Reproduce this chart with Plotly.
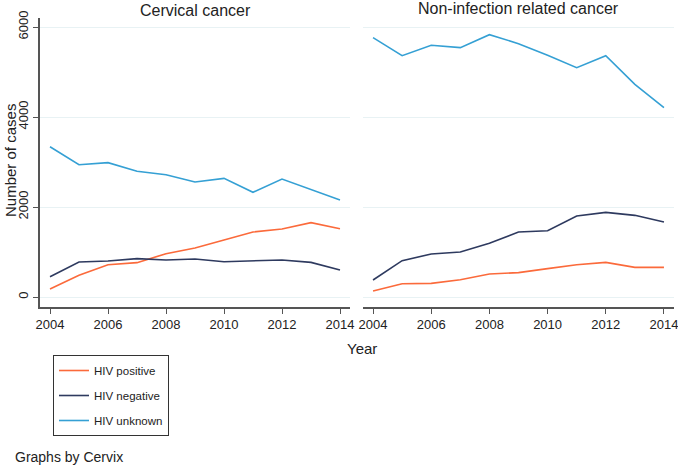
import plotly.graph_objects as go

years = list(range(2004, 2015))

# Cervical cancer panel
cervical_hiv_positive = [178, 482, 718, 763, 963, 1089, 1267, 1444, 1511, 1652, 1515]
cervical_hiv_negative = [452, 778, 800, 852, 822, 844, 785, 800, 822, 770, 600]
cervical_hiv_unknown = [3340, 2940, 2985, 2793, 2718, 2556, 2637, 2326, 2622, 2380, 2155]

# Non-infection related cancer panel
noninf_hiv_positive = [133, 296, 304, 385, 511, 541, 630, 718, 770, 659, 659]
noninf_hiv_negative = [378, 807, 956, 1000, 1193, 1444, 1474, 1800, 1881, 1815, 1667]
noninf_hiv_unknown = [5763, 5363, 5593, 5541, 5830, 5630, 5370, 5096, 5363, 4726, 4207]

series_names = ["HIV positive", "HIV negative", "HIV unknown"]
series_colors = ["#fb6a3b", "#2e3a5f", "#35a0d4"]
panel_titles = ["Cervical cancer", "Non-infection related cancer"]
y_ticks = [0, 2000, 4000, 6000]
x_ticks = [2004, 2006, 2008, 2010, 2012, 2014]

W, H = 678, 465
ML, MR, MT, MB = 40, 4, 18, 158
PW = W - ML - MR
PH = H - MT - MB


def px_x(p):
    return (p - ML) / PW


def px_y(p):
    return (H - MB - p) / PH


panels = [
    (cervical_hiv_positive, cervical_hiv_negative, cervical_hiv_unknown),
    (noninf_hiv_positive, noninf_hiv_negative, noninf_hiv_unknown),
]

fig = go.Figure()
for i, panel in enumerate(panels):
    suffix = "" if i == 0 else "2"
    for name, color, vals in zip(series_names, series_colors, panel):
        fig.add_trace(go.Scatter(
            x=years, y=vals, mode="lines", name=name,
            line=dict(color=color, width=1.6),
            xaxis="x" + suffix, yaxis="y" + suffix,
            legendgroup=name, showlegend=(i == 0),
        ))

font = "Liberation Sans, Arial, sans-serif"
axis_common = dict(
    range=[2003.655, 2014.345], tickvals=x_ticks, ticks="outside", ticklen=5,
    tickcolor="#555555", showline=True, linecolor="#555555", linewidth=1.5,
    showgrid=False, zeroline=False, tickfont=dict(size=13, color="#222222"),
    automargin=False, ticklabeloverflow="allow",
)
yaxis_common = dict(
    range=[-222, 6200], tickvals=y_ticks, showgrid=True, gridcolor="#e8f2f4",
    gridwidth=1, zeroline=False, automargin=False,
)

fig.update_layout(
    width=W, height=H,
    margin=dict(l=ML, r=MR, t=MT, b=MB, autoexpand=False),
    paper_bgcolor="white", plot_bgcolor="white",
    font=dict(family=font, color="#222222"),
    xaxis=dict(domain=[0, px_x(350)], anchor="y", **axis_common),
    xaxis2=dict(domain=[px_x(363), 1], anchor="y2", **axis_common),
    yaxis=dict(domain=[0, 1], anchor="x", showline=True, linecolor="#555555",
               linewidth=1.5, ticks="outside", ticklen=5, tickcolor="#555555",
               tickangle=-90, tickfont=dict(size=13, color="#222222"),
               **yaxis_common),
    yaxis2=dict(domain=[0, 1], anchor="x2", showline=False, ticks="",
                showticklabels=False, **yaxis_common),
    showlegend=True,
    legend=dict(
        x=px_x(53), y=px_y(355), xanchor="left", yanchor="top",
        bordercolor="#333333", borderwidth=1, bgcolor="white",
        font=dict(size=11.5, color="#222222"), tracegroupgap=6,
        traceorder="grouped",
    ),
)

annotations = [
    dict(text=panel_titles[0], x=px_x(195), y=px_y(10), font=dict(size=16)),
    dict(text=panel_titles[1], x=px_x(518), y=px_y(9), font=dict(size=16)),
    dict(text="Year", x=px_x(362), y=px_y(348), font=dict(size=15)),
    dict(text="Number of cases", x=px_x(10), y=px_y(161), textangle=-90,
         font=dict(size=15)),
    dict(text="Graphs by Cervix", x=px_x(13), y=px_y(457), xanchor="left",
         font=dict(size=14)),
]
for a in annotations:
    a.update(xref="paper", yref="paper", showarrow=False)
    a.setdefault("xanchor", "center")
    a.setdefault("yanchor", "middle")
fig.update_layout(annotations=annotations)

# page body margin would otherwise shift the figure by 8px
fig.write_html("out.html", config={"displayModeBar": False},
               post_script="document.body.style.margin='0';")
